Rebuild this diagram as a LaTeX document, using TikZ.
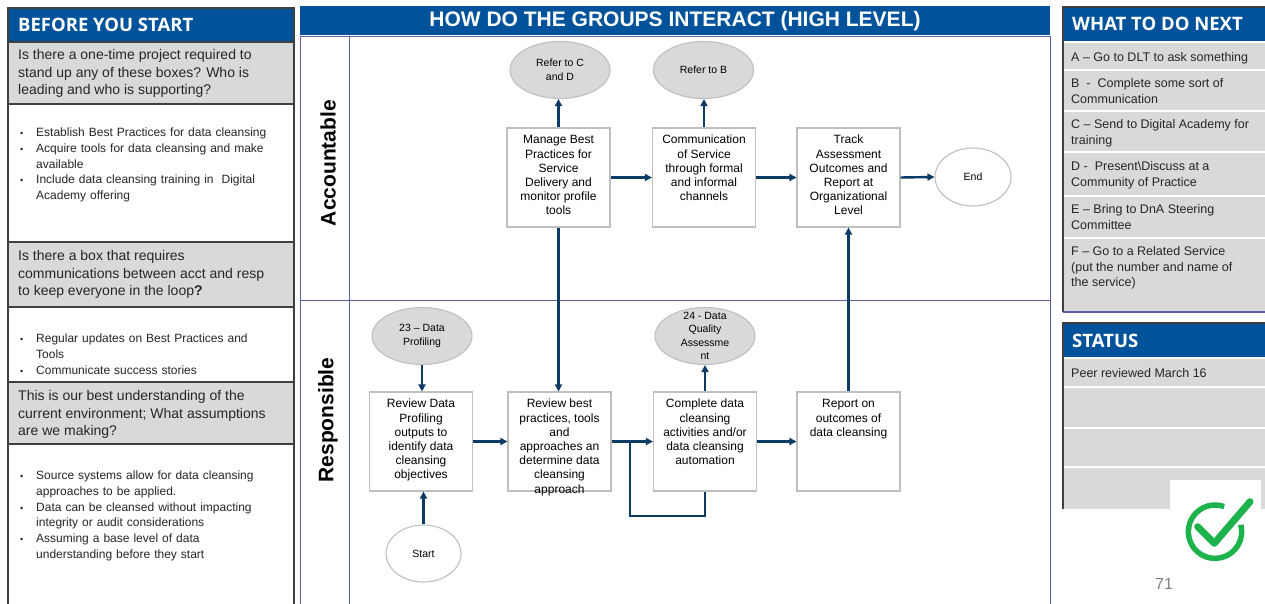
\documentclass[tikz,border=0pt]{standalone}
\usepackage{fontspec}
\setmainfont{Liberation Sans}
\newfontfamily\headfont{Open Sans}
\usetikzlibrary{arrows.meta, positioning, shapes.geometric}
\definecolor{hdrblue}{HTML}{00539B}
\definecolor{flownavy}{HTML}{0D3B66}
\definecolor{cellgray}{HTML}{D9D9D9}
\definecolor{edgegray}{HTML}{BFBFBF}
\definecolor{lanepurple}{HTML}{5A5FA0}
\definecolor{panelline}{HTML}{404040}
\definecolor{txtgray}{HTML}{262626}
\definecolor{okgreen}{HTML}{1DB24B}
\newcommand{\blt}[1]{\noindent\hangindent=16pt\hangafter=1\makebox[16pt][l]{\strut\small\textbullet}#1\par}

\begin{document}
\begin{tikzpicture}[x=1pt, y=-1pt,
  procbox/.style={draw=edgegray, line width=1.1pt, fill=white, minimum width=103pt, minimum height=99pt, inner sep=0pt},
  proctxt/.style={anchor=north, inner sep=0pt, align=center, font=\fontsize{12}{14.2}\selectfont},
  refoval/.style={ellipse, draw=edgegray, line width=1.1pt, fill=cellgray, minimum width=100pt, minimum height=57pt, inner sep=0pt},
  termoval/.style={ellipse, draw=edgegray, line width=1.1pt, fill=white, minimum width=76pt, minimum height=58pt, inner sep=0pt},
  ovaltxt/.style={inner sep=0pt, align=center, font=\fontsize{10.5}{13.5}\selectfont},
  flowarr/.style={draw=flownavy, line width=2.4pt, -{Triangle[length=7pt,width=7pt]}},
  lanelbl/.style={rotate=90, inner sep=0pt, font=\bfseries\fontsize{21}{24}\selectfont},
  hdrtxt/.style={anchor=west, inner sep=0pt, text=white, font=\headfont\bfseries\fontsize{18.5}{20}\selectfont},
  asktxt/.style={anchor=north west, inner sep=0pt, align=left, text=txtgray, font=\fontsize{14}{17.5}\selectfont},
  bullettxt/.style={anchor=north west, inner sep=0pt, text width=272pt, text=txtgray, font=\fontsize{12}{15.8}\selectfont},
  nexttxt/.style={anchor=north west, inner sep=0pt, align=left, text=txtgray, font=\fontsize{12.5}{15.5}\selectfont}]
\useasboundingbox[fill=white] (0,0) rectangle (1265,604);

% before you start
\fill[hdrblue] (8,8) rectangle (294,42);
\fill[cellgray] (8,42) rectangle (294,104);
\fill[cellgray] (8,242) rectangle (294,307);
\fill[cellgray] (8,382) rectangle (294,444);
\draw[panelline, line width=1.2pt] (8,604) -- (8,8) -- (294,8) -- (294,604);
\foreach \yy in {42,104,242,307,382,444}
  \draw[panelline, line width=1.2pt] (8,\yy) -- (294,\yy);
\node[hdrtxt] (byshdr) at (18,25) {BEFORE YOU START};
\node[asktxt] (askone) at (18,47.5) {\strut Is there a one-time project required to\\stand up any of these boxes? Who is\\leading and who is supporting?};
\node[bullettxt] (bltone) at (20,125.2) {\blt{Establish Best Practices for data cleansing}\blt{Acquire tools for data cleansing and make\newline available}\blt{Include data cleansing training in~ Digital\newline Academy offering}};
\node[asktxt] (asktwo) at (18,248.5) {\strut Is there a box that requires\\communications between acct and resp\\to keep everyone in the loop\textbf{?}};
\node[bullettxt] (blttwo) at (20,331.2) {\blt{Regular updates on Best Practices and\newline Tools}\blt{Communicate success stories}};
\node[asktxt] (askthree) at (18,388.5) {\strut This is our best understanding of the\\current environment; What assumptions\\are we making?};
\node[bullettxt] (bltthree) at (20,468.2) {\blt{Source systems allow for data cleansing\newline approaches to be applied.}\blt{Data can be cleansed without impacting\newline integrity or audit considerations}\blt{Assuming a base level of data\newline understanding before they start}};

% swimlanes
\fill[hdrblue] (300,6) rectangle (1050,35);
\node[inner sep=0pt, text=white, font=\bfseries\fontsize{21}{24}\selectfont] (maintitle) at (675,21) {HOW DO THE GROUPS INTERACT (HIGH LEVEL)};
\draw[lanepurple, line width=1pt] (300,604) -- (300,37) -- (1050,37) -- (1050,604);
\draw[lanepurple, line width=1pt] (349,37) -- (349,604);
\draw[lanepurple, line width=1pt] (300,300) -- (1050,300);
\node[lanelbl] (acclane) at (328,163) {Accountable};
\node[lanelbl] (reslane) at (328,420) {Responsible};

% accountable row
\node[procbox] (mbp) at (558.5,177.5) {};
\node[proctxt] (mbptxt) at ([yshift=-6.4pt]mbp.north) {\strut Manage Best\\Practices for\\Service\\Delivery and\\monitor profile\\tools};
\node[procbox] (comm) at (704,177.5) {};
\node[proctxt] (commtxt) at ([yshift=-6.4pt]comm.north) {\strut Communication\\of Service\\through formal\\and informal\\channels};
\node[procbox] (track) at (848.5,177.5) {};
\node[proctxt] (tracktxt) at ([yshift=-6.4pt]track.north) {\strut Track\\Assessment\\Outcomes and\\Report at\\Organizational\\Level};
\node[refoval] (refcd) at (560,70) {};
\node[ovaltxt] (refcdtxt) at (refcd) {Refer to C\\and D};
\node[refoval] (refb) at (703.5,70) {};
\node[ovaltxt] (refbtxt) at (refb) {Refer to B};
\node[termoval] (endo) at (973,177) {};
\node[ovaltxt] (endtxt) at (endo) {End};

% responsible row
\node[procbox] (rdp) at (421,441.5) {};
\node[proctxt] (rdptxt) at ([yshift=-6.4pt]rdp.north) {\strut Review Data\\Profiling\\outputs to\\identify data\\cleansing\\objectives};
\node[procbox] (rbp) at (559.5,441.5) {};
\node[proctxt] (rbptxt) at ([yshift=-6.4pt]rbp.north) {\strut Review best\\practices, tools\\and\\approaches an\\determine data\\cleansing\\approach};
\node[procbox] (cpl) at (705,441.5) {};
\node[proctxt] (cpltxt) at ([yshift=-6.4pt]cpl.north) {\strut Complete data\\cleansing\\activities and/or\\data cleansing\\automation};
\node[procbox] (rpt) at (848.5,441.5) {};
\node[proctxt] (rpttxt) at ([yshift=-6.4pt]rpt.north) {\strut Report on\\outcomes of\\data cleansing};
\node[refoval] (dprof) at (422,336) {};
\node[ovaltxt] (dproftxt) at (dprof) {23 – Data\\Profiling};
\node[refoval] (dqa) at (705,336) {};
\node[ovaltxt] (dqatxt) at (dqa) {24 - Data\\Quality\\Assessme\\nt};
\node[termoval, minimum width=75pt, minimum height=57pt] (starto) at (423.5,553.5) {};
\node[ovaltxt] (starttxt) at (starto) {Start};
\coordinate (loopc) at (630,516);

% connectors
\draw[flowarr] (mbp.north) -- (mbp.north |- refcd.south);
\draw[flowarr] (comm.north) -- (comm.north |- refb.south);
\draw[flowarr] (mbp.east) -- (comm.west);
\draw[flowarr] (comm.east) -- (track.west);
\draw[flowarr] (track.east) -- (endo.west);
\draw[flowarr] (mbp.south) -- (mbp.south |- rbp.north);
\draw[flowarr] (rpt.north) -- (track.south);
\draw[flowarr] (dprof.south) -- (dprof.south |- rdp.north);
\draw[flowarr] (starto.north) -- (starto.north |- rdp.south);
\draw[flowarr] (rdp.east) -- (rbp.west);
\draw[flowarr] (rbp.east) -- (cpl.west);
\draw[flowarr] (cpl.north) -- (cpl.north |- dqa.south);
\draw[flowarr] (cpl.east) -- (rpt.west);
\draw[flownavy, line width=2.4pt] (cpl.south) |- (loopc) -- (loopc |- rbp.east);

% what to do next
\fill[hdrblue] (1063,7) rectangle (1265,41);
\fill[cellgray] (1063,43) rectangle (1265,311);
\foreach \yy in {70,111,152.5,196,238}
  \draw[white, line width=2pt] (1063,\yy) -- (1265,\yy);
\draw[panelline, line width=1.2pt] (1063,312) -- (1063,7) -- (1265,7);
\draw[lanepurple, line width=1.2pt] (1063,312) -- (1265,312);
\node[hdrtxt] (nexthdr) at (1072,23.5) {WHAT TO DO NEXT};
\node[nexttxt] (nexta) at (1071,50.6) {\strut A – Go to DLT to ask something};
\node[nexttxt] (nextb) at (1071,76.6) {\strut B~~-~~Complete some sort of\\Communication};
\node[nexttxt] (nextc) at (1071,117.6) {\strut C – Send to Digital Academy for\\training};
\node[nexttxt] (nextd) at (1071,159.6) {\strut D -~~Present\textbackslash Discuss at a\\Community of Practice};
\node[nexttxt] (nexte) at (1071,202.6) {\strut E – Bring to DnA Steering\\Committee};
\node[nexttxt] (nextf) at (1071,244.6) {\strut F – Go to a Related Service\\(put the number and name of\\the service)};

% status
\fill[hdrblue] (1063,323) rectangle (1265,357);
\fill[cellgray] (1063,359) rectangle (1265,509);
\foreach \yy in {386.5,427.5,466.5}
  \draw[white, line width=2pt] (1063,\yy) -- (1265,\yy);
\fill[white] (1170,480) rectangle (1261,510);
\draw[panelline, line width=1.2pt] (1063,509) -- (1063,323) -- (1265,323);
\node[hdrtxt] (stathdr) at (1072,341) {STATUS};
\node[nexttxt] (statone) at (1071,366.6) {\strut Peer reviewed March 16};
\draw[okgreen, line width=5.5pt] (1215,531.7) ++(-15:26.7) arc[start angle=-15, end angle=290, radius=26.7];
\draw[okgreen, line width=7pt, line cap=round, line join=round] (1197.7,526.7) -- (1214.3,543.3) -- (1250,501.7);
\node[text=gray, font=\fontsize{16}{18}\selectfont] (pagenum) at (1164,584) {71};
\end{tikzpicture}
\end{document}
